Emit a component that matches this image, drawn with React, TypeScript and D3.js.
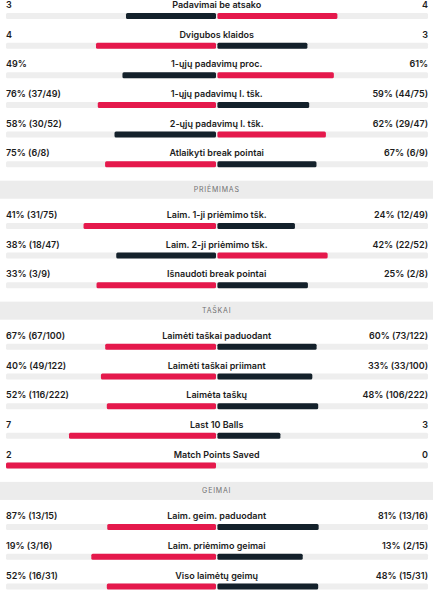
import React from "react";
import * as d3 from "d3";

const sections = ["", "PRIĖMIMAS", "TAŠKAI", "GEIMAI"];
const rowSection = [0, 0, 0, 0, 0, 0, 1, 1, 1, 2, 2, 2, 2, 2, 3, 3, 3];
const categories = [
  "Padavimai be atsako",
  "Dvigubos klaidos",
  "1-ųjų padavimų proc.",
  "1-ųjų padavimų l. tšk.",
  "2-ųjų padavimų l. tšk.",
  "Atlaikyti break pointai",
  "Laim. 1-ji priėmimo tšk.",
  "Laim. 2-ji priėmimo tšk.",
  "Išnaudoti break pointai",
  "Laimėti taškai paduodant",
  "Laimėti taškai priimant",
  "Laimėta taškų",
  "Last 10 Balls",
  "Match Points Saved",
  "Laim. geim. paduodant",
  "Laim. priėmimo geimai",
  "Viso laimėtų geimų",
];
const leftValues = [3, 4, 49, 76, 58, 75, 41, 38, 33, 67, 40, 52, 7, 2, 87, 19, 52];
const rightValues = [4, 3, 61, 59, 62, 67, 24, 42, 25, 60, 33, 48, 3, 0, 81, 13, 48];
const leftTexts = [
  "3", "4", "49%", "76% (37/49)", "58% (30/52)", "75% (6/8)",
  "41% (31/75)", "38% (18/47)", "33% (3/9)",
  "67% (67/100)", "40% (49/122)", "52% (116/222)", "7", "2",
  "87% (13/15)", "19% (3/16)", "52% (16/31)",
];
const rightTexts = [
  "4", "3", "61%", "59% (44/75)", "62% (29/47)", "67% (6/9)",
  "24% (12/49)", "42% (22/52)", "25% (2/8)",
  "60% (73/122)", "33% (33/100)", "48% (106/222)", "3", "0",
  "81% (13/16)", "13% (2/15)", "48% (15/31)",
];

const W = 435;
const H = 590;
const RED = "#e5194c";
const DARK = "#14212b";
const TRACK = "#eeeeee";
const FONT = "Inter, 'Noto Sans', sans-serif";

export default function App() {
  const trackL = 6;
  const trackR = 428;
  const cx = 216.7;
  const gap = 0.7;
  const len = d3.scaleLinear().domain([0, 1]).range([0, cx - gap - trackL]);

  const pitch = 29.65;
  const extra = 32;
  let cursor = 5;
  const rows: { i: number; y: number }[] = [];
  const headers: { name: string; y: number }[] = [];
  categories.forEach((_, i) => {
    if (i > 0 && rowSection[i] !== rowSection[i - 1]) {
      headers.push({ name: sections[rowSection[i]], y: cursor - 2.2 });
      cursor += extra;
    }
    rows.push({ i, y: cursor });
    cursor += pitch;
  });

  return (
    <svg
      width={W}
      height={H}
      style={{ position: "absolute", left: 0, top: 0, background: "#fff" }}
      fontFamily={FONT}
    >
      {headers.map((h) => (
        <g key={h.name}>
          <rect x={0} y={h.y} width={433} height={18} fill="#ececec" />
          <text
            x={cx}
            y={h.y + 9}
            dy="0.35em"
            textAnchor="middle"
            fontSize={7}
            letterSpacing={0.8}
            fill="#707070"
          >
            {h.name}
          </text>
        </g>
      ))}
      {rows.map(({ i, y }) => {
        const l = leftValues[i];
        const r = rightValues[i];
        const tot = l + r;
        const lw = tot ? len(l / tot) : 0;
        const rw = tot ? len(r / tot) : 0;
        const lc = l >= r ? RED : DARK;
        const rc = r > l ? RED : DARK;
        const by = y + 8;
        return (
          <g key={i}>
            <text x={trackL} y={y} dy="0.35em" fontSize={9} fontWeight={600} fill="#1c1c1c">
              {leftTexts[i]}
            </text>
            <text x={cx} y={y} dy="0.35em" textAnchor="middle" fontSize={9} fontWeight={600} fill="#1c1c1c">
              {categories[i]}
            </text>
            <text x={trackR} y={y} dy="0.35em" textAnchor="end" fontSize={9} fontWeight={600} fill="#1c1c1c">
              {rightTexts[i]}
            </text>
            <rect x={trackL} y={by} width={trackR - trackL} height={6} rx={1.5} fill={TRACK} />
            {lw > 0 && <rect x={cx - gap - lw} y={by} width={lw} height={6} rx={1.5} fill={lc} />}
            {rw > 0 && <rect x={cx + gap} y={by} width={rw} height={6} rx={1.5} fill={rc} />}
          </g>
        );
      })}
    </svg>
  );
}
